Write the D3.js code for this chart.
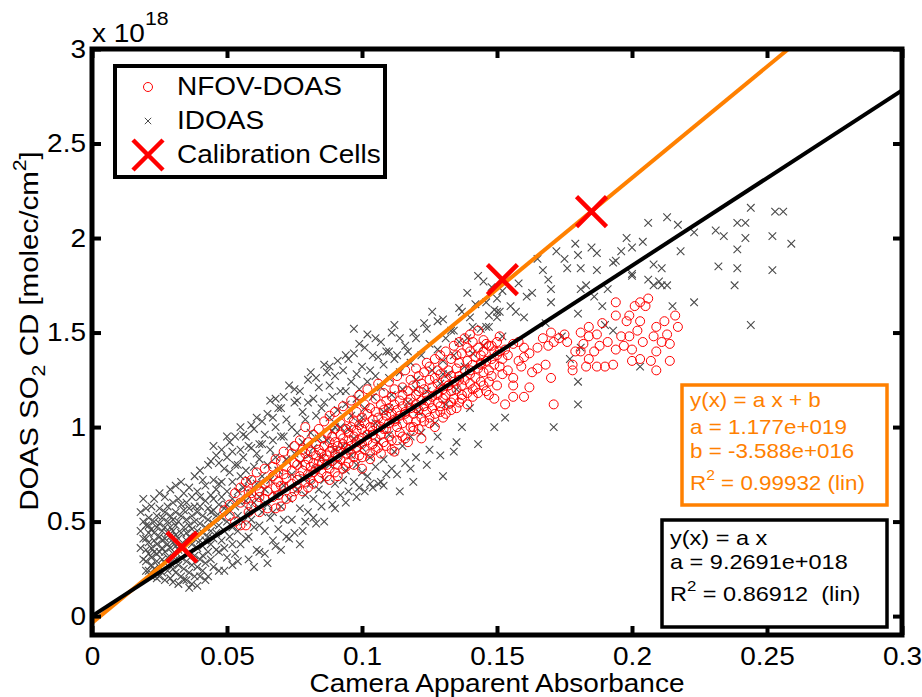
<!DOCTYPE html>
<html>
<head>
<meta charset="utf-8">
<script src="https://cdn.jsdelivr.net/npm/d3@7"></script>
<style>
  body { margin: 0; background: #fff; }
  svg { font-family: "Liberation Sans", Arial, sans-serif; }
</style>
</head>
<body>
<svg width="922" height="697"></svg>
<script>
// values, y in units of 1e18 molec/cm2
const xTicks = [0, 0.05, 0.1, 0.15, 0.2, 0.25, 0.3]
const xTickLabels = ["0", "0.05", "0.1", "0.15", "0.2", "0.25", "0.3"]
const yTicks = [0, 0.5, 1, 1.5, 2, 2.5, 3]
const yTickLabels = ["0", "0.5", "1", "1.5", "2", "2.5", "3"]

const calibrationCells = [[0.0333, 0.365], [0.152, 1.78], [0.185, 2.14]]

const fitLinB = {a: 11.77, b: -0.03588}   // orange, y = a x + b
const fitLin = {a: 9.2691, b: 0}           // black, y = a x

const fitLinBText = ["y(x) = a x + b", "a = 1.177e+019", "b = -3.588e+016", "R|2| = 0.99932 (lin)"]
const fitLinText = ["y(x) = a x", "a = 9.2691e+018", "R|2| = 0.86912  (lin)"]

const legendLabels = ["NFOV-DOAS", "IDOAS", "Calibration Cells"]

// NFOV-DOAS columns: [x, [y...]]
const nfovColumns = [
  [0.049,[0.56]],[0.051,[0.59,0.53]],[0.053,[0.65,0.50]],[0.055,[0.48,0.60,0.68]],
  [0.057,[0.48,0.62,0.71]],[0.058,[0.55,0.66]],[0.059,[0.65,0.72,0.58]],[0.061,[0.60,0.69,0.76]],
  [0.062,[0.55,0.66,0.63]],[0.064,[0.78,0.62,0.70]],[0.065,[0.71,0.57,0.66]],[0.067,[0.79,0.74,0.63]],
  [0.068,[0.57,0.68,0.83]],[0.069,[0.76,0.64,0.71]],[0.070,[0.58,0.82,0.69]],[0.071,[0.68,0.75,0.87]],
  [0.072,[0.62,0.73,0.79]],[0.074,[0.63,0.86,0.70,0.77]],[0.075,[0.66,0.81,0.90]],[0.076,[0.80,0.72,0.68]],
  [0.077,[0.74,0.84,0.93]],[0.078,[0.66,0.88,0.77]],[0.079,[1.00,0.71,0.80,0.86]],[0.080,[0.68,0.75,0.92,0.83]],
  [0.081,[0.79,0.87,0.72]],[0.082,[0.96,0.70,0.81,0.76]],[0.083,[0.85,0.91,0.78]],[0.084,[0.73,0.88,0.99,0.82]],
  [0.085,[0.80,0.94,0.76,0.86]],[0.086,[0.90,0.83,1.03]],[0.087,[0.74,0.85,0.97,0.80]],[0.088,[0.92,0.87,0.78,1.06,0.72]],
  [0.089,[0.82,0.95,0.89]],[0.090,[0.76,0.99,0.86,0.92,1.08]],[0.091,[0.84,0.90,0.80,0.74]],[0.092,[0.96,1.02,0.87,0.83]],
  [0.093,[0.91,0.78,1.11,0.94]],[0.094,[0.86,0.99,0.89,0.79]],[0.095,[0.81,0.93,1.05,0.97,0.88]],[0.096,[0.90,1.14,0.86,1.00]],
  [0.097,[0.95,0.84,1.03,0.80]],[0.098,[0.89,1.08,0.98,0.92]],[0.099,[1.01,0.85,1.17,0.93]],[0.100,[0.78,0.94,1.05,0.99,0.91,0.84]],
  [0.101,[1.12,0.88,1.02]],[0.102,[0.96,1.20,0.93,1.07]],[0.103,[0.86,1.00,1.10,0.83]],[0.104,[0.98,1.04,0.91,0.96]],
  [0.105,[1.15,0.94,1.08,1.01,0.88]],[0.106,[0.89,1.23,1.05]],[0.107,[1.00,0.96,1.12,0.86]],[0.108,[1.09,0.92,1.18,1.03,0.99]],
  [0.109,[1.06,0.99,1.14,0.90]],[0.110,[0.95,1.24,1.10,1.02]],[0.111,[1.07,1.16,0.93,0.88]],[0.112,[0.87,1.04,1.12,1.20,1.03]],
  [0.113,[1.09,1.00,1.27,0.93]],[0.114,[1.14,0.97,1.06]],[0.115,[1.21,1.02,1.11,1.17,0.95]],[0.116,[0.94,1.08,1.30,1.07]],
  [0.117,[1.13,1.04,1.19,0.92]],[0.118,[1.00,1.25,1.10,1.15]],[0.119,[1.07,1.22,0.98,1.00]],[0.120,[1.17,1.12,1.31,1.03,1.10]],
  [0.121,[1.09,1.27,1.19,0.99]],[0.122,[0.94,1.14,1.05,1.23]],[0.123,[1.20,1.29,1.11,1.03]],[0.124,[1.08,1.17,1.34,1.14]],
  [0.125,[1.32,1.13,1.02,1.25,1.05]],[0.126,[1.21,1.16,1.10]],[0.127,[1.36,1.07,1.26,1.00]],[0.128,[1.18,1.23,1.13,1.30,1.17]],
  [0.129,[1.11,1.28,1.38,1.08]],[0.130,[1.20,1.15,1.33,1.05]],[0.131,[1.25,1.40,1.17,1.07]],[0.132,[1.12,1.30,1.22,1.22]],
  [0.133,[1.36,1.19,1.27,1.09,1.13]],[0.134,[1.24,1.43,1.15]],[0.135,[1.31,1.20,1.38,1.10]],[0.136,[1.13,1.27,1.34,1.45,1.25]],
  [0.137,[1.22,1.39,1.17,1.15]],[0.138,[1.30,1.25,1.47]],[0.139,[1.35,1.18,1.42,1.12]],[0.140,[1.28,1.23,1.40,1.49,1.30]],
  [0.141,[1.33,1.16,1.45,1.20]],[0.142,[1.26,1.37,1.21]],[0.143,[1.42,1.31,1.51,1.18]],[0.144,[1.34,1.24,1.38,1.33]],
  [0.145,[1.40,1.29,1.46,1.22]],[0.146,[1.19,1.35,1.44]],[0.147,[1.24,1.43,1.30,1.17]],[0.148,[1.43,1.36,1.27]],
  [0.149,[1.15,1.40,1.33]],[0.150,[1.38,1.22,1.45]],[0.151,[1.32,1.40,1.48]],[0.152,[1.28,1.36]],
  [0.153,[1.12,1.41]],[0.154,[1.38,1.30]],[0.156,[1.16,1.22,1.26,1.44]],[0.158,[1.45,1.35]],
  [0.159,[1.32]],[0.160,[1.42,1.16,1.37]],[0.162,[1.21,1.39]],[0.163,[1.29]],[0.165,[1.31,1.42]],
  [0.167,[1.47]],[0.168,[1.33]],[0.169,[1.43]],[0.170,[1.50,1.26]],[0.171,[1.45,1.12]],[0.173,[1.47]],
  [0.175,[1.49]],[0.176,[1.45]],[0.178,[1.30,1.33]],[0.179,[1.40]],[0.181,[1.50,1.40]],[0.182,[1.44]],
  [0.183,[1.32]],[0.184,[1.53,1.48,1.36]],[0.186,[1.40]],[0.187,[1.49,1.32]],[0.188,[1.43]],[0.189,[1.55]],
  [0.190,[1.32]],[0.191,[1.45]],[0.193,[1.33]],[0.194,[1.66,1.59,1.41]],[0.196,[1.48]],[0.197,[1.43]],
  [0.198,[1.56]],[0.199,[1.59,1.48]],[0.200,[1.41,1.35]],[0.201,[1.64]],[0.202,[1.51]],[0.203,[1.66,1.56,1.36]],
  [0.204,[1.45]],[0.205,[1.64]],[0.206,[1.68]],[0.207,[1.35]],[0.208,[1.48]],[0.209,[1.53,1.40,1.30]],
  [0.211,[1.45]],[0.212,[1.56]],[0.213,[1.49]],[0.214,[1.44,1.35]],[0.216,[1.59]],[0.217,[1.53]]
]

// IDOAS columns: [x, [y...]]
const idoasColumns = [
  [0.018,[0.45,0.36,0.55]],[0.019,[0.30,0.41,0.50,0.62]],[0.020,[0.41,0.35,0.29,0.24,0.48,0.57]],
  [0.021,[0.48,0.24,0.33,0.39,0.52,0.44]],[0.022,[0.27,0.36,0.46,0.58,0.21,0.31]],[0.023,[0.40,0.50,0.25,0.34,0.62,0.44]],
  [0.024,[0.53,0.20,0.29,0.38,0.47,0.33]],[0.025,[0.21,0.34,0.42,0.57,0.26,0.49,0.65]],[0.026,[0.40,0.30,0.23,0.45,0.36,0.52]],
  [0.027,[0.63,0.19,0.28,0.41,0.34,0.55,0.47]],[0.028,[0.24,0.38,0.31,0.44,0.58,0.50]],[0.029,[0.20,0.28,0.36,0.42,0.53,0.67,0.47]],
  [0.030,[0.45,0.33,0.25,0.18,0.39,0.60,0.51]],[0.031,[0.23,0.30,0.43,0.37,0.55,0.48,0.69]],[0.032,[0.17,0.27,0.35,0.41,0.50,0.62]],
  [0.033,[0.71,0.59,0.21,0.31,0.44,0.38,0.53]],[0.034,[0.25,0.19,0.36,0.47,0.56,0.65]],[0.035,[0.19,0.29,0.40,0.33,0.51,0.60,0.44]],
  [0.036,[0.15,0.34,0.23,0.42,0.48,0.57,0.68]],[0.037,[0.27,0.38,0.17,0.46,0.53,0.63]],[0.038,[0.58,0.21,0.32,0.41,0.50,0.74]],
  [0.039,[0.16,0.26,0.36,0.45,0.55,0.66]],[0.040,[0.63,0.30,0.40,0.21,0.49,0.58,0.77]],[0.041,[0.72,0.32,0.24,0.44,0.53,0.37]],
  [0.042,[0.19,0.28,0.47,0.61,0.40,0.69]],[0.043,[0.42,0.51,0.21,0.34,0.57,0.80]],[0.044,[0.82,0.30,0.45,0.64,0.38,0.55]],
  [0.045,[0.56,0.26,0.49,0.72,0.41,0.62,0.90]],[0.046,[0.35,0.44,0.67,0.53,0.85]],[0.047,[0.81,0.34,0.24,0.59,0.48,0.70]],
  [0.048,[0.71,0.40,0.52,0.63,0.88]],[0.049,[0.24,0.45,0.57,0.78,0.36]],[0.050,[0.50,0.66,0.31,0.84,0.59,0.95]],
  [0.051,[0.76,0.42,0.55,0.92]],[0.052,[0.87,0.38,0.62,0.47,0.71,0.27]],[0.053,[0.33,0.58,0.80,0.95]],
  [0.054,[0.80,0.45,0.29,0.66,0.53]],[0.055,[0.38,0.74,0.88,0.60,1.00]],[0.056,[0.96,0.50,0.68,0.84]],
  [0.057,[0.95,0.41,0.61,0.77]],[0.058,[0.42,0.56,0.72,0.90,0.30]],[0.059,[0.89,0.51,0.65,1.01]],
  [0.060,[0.99,0.26,0.47,0.79,0.60]],[0.061,[0.35,0.70,0.86,1.05]],[0.062,[0.34,0.48,0.83,0.91,0.63]],
  [0.063,[0.91,0.55,0.74,1.03]],[0.064,[0.45,0.67,0.96,0.33]],[0.065,[0.28,0.59,0.80,1.07]],[0.066,[1.14,0.52,0.88,0.72]],
  [0.067,[1.05,0.55,0.93,0.40]],[0.068,[0.64,0.84,1.00,0.37,1.15]],[0.069,[0.46,0.77,1.10]],[0.070,[0.35,0.58,0.95,1.10]],
  [0.071,[0.95,0.69,0.51,1.16]],[0.072,[0.42,0.83,1.04]],[0.073,[1.22,0.62,0.90,0.41]],[0.074,[0.51,1.00,0.75]],
  [0.075,[0.44,0.86,1.13,1.20]],[0.076,[1.14,0.67,0.97]],[0.077,[0.38,0.57,0.81,1.19]],[0.078,[1.08,0.73,0.92,0.45]],
  [0.079,[0.50,1.04,0.64]],[0.080,[1.13,0.85,0.55,1.25]],[0.081,[1.29,0.70,0.97]],[0.082,[0.62,0.89,1.15,0.52]],
  [0.083,[1.06,0.49,0.78,1.26]],[0.084,[0.67,1.21,0.94]],[0.085,[0.84,1.10,0.58]],[0.086,[1.13,0.72,1.33,0.50]],
  [0.087,[1.29,0.93,0.64]],[0.088,[0.80,1.05,1.22,1.32]],[0.089,[1.16,0.59,0.98]],[0.090,[0.70,1.27,0.88,0.57,1.00]],
  [0.091,[1.35,0.82,1.09]],[0.092,[0.64,1.00,1.19]],[0.093,[0.72,1.30,0.90]],[0.094,[1.19,0.77,1.12,0.60,1.38]],
  [0.095,[0.66,0.99,1.36]],[0.096,[0.85,1.24,1.06]],[0.097,[1.52,0.71,1.39,0.94]],[0.098,[1.15,0.80,1.28,0.63]],
  [0.099,[0.68,1.02,1.20,1.44]],[0.100,[1.32,0.89,0.76,1.05]],[0.101,[1.10,1.42,0.66]],[0.102,[1.49,1.24,0.96,0.74]],
  [0.103,[0.84,1.30,0.70]],[0.104,[0.68,1.16,1.38]],[0.105,[1.02,0.79,1.27,1.47]],[0.106,[1.37,0.92,0.70]],
  [0.107,[0.71,1.21,1.45]],[0.108,[1.08,0.83,1.33,0.69]],[0.109,[0.75,1.40]],[0.110,[1.40,0.96,1.26,1.10]],
  [0.111,[0.78,1.17,1.50]],[0.112,[1.54,0.87,1.36]],[0.113,[1.38,1.04,0.75]],[0.114,[0.66,1.29,1.47]],
  [0.115,[0.90,1.20]],[0.116,[0.81,1.43]],[0.117,[1.40,1.13]],[0.118,[0.95,1.34,0.78]],[0.119,[0.71,1.50]],
  [0.120,[1.47,0.84,1.25,1.20]],[0.121,[1.08]],[0.122,[1.38,0.97]],[0.123,[1.55]],[0.124,[1.52,1.19,0.80]],
  [0.125,[0.88,1.44]],[0.126,[1.61,1.30]],[0.127,[1.02]],[0.128,[1.56,0.95,1.41]],[0.129,[1.23,0.85]],
  [0.130,[1.57,0.74,1.35,1.28]],[0.131,[1.47,1.12]],[0.132,[1.28]],[0.133,[1.51]],[0.134,[1.51,0.87,1.38]],
  [0.135,[1.20,0.92]],[0.136,[1.63,1.45]],[0.137,[1.61,1.00]],[0.138,[1.32]],[0.139,[1.47,1.71]],
  [0.140,[1.58,1.10]],[0.141,[1.53,1.39]],[0.142,[1.65]],[0.143,[1.80,0.91]],[0.144,[1.52]],
  [0.145,[1.77,1.43]],[0.146,[1.53,1.66]],[0.147,[1.59,1.53]],[0.148,[1.74]],[0.149,[1.00,1.62]],
  [0.150,[1.61,1.58,1.68]],[0.151,[1.61]],[0.152,[1.48,1.72]],[0.153,[1.05]],[0.155,[1.64]],[0.157,[1.61]],
  [0.158,[1.76]],[0.160,[1.58]],[0.161,[1.69]],[0.163,[1.71]],[0.165,[1.89]],[0.167,[1.83]],[0.168,[1.55]],
  [0.169,[1.78]],[0.170,[1.73,1.66]],[0.171,[1.00]],[0.172,[1.93]],[0.174,[1.48]],[0.175,[1.89]],[0.176,[1.84]],
  [0.177,[1.36]],[0.179,[1.97]],[0.180,[1.91,1.60,1.24,1.12]],[0.181,[1.84,1.73,1.42]],[0.183,[1.75]],
  [0.185,[1.95]],[0.186,[1.69]],[0.187,[1.92,1.83]],[0.189,[1.64]],[0.190,[1.54]],[0.191,[1.73]],
  [0.193,[1.87,1.51]],[0.194,[1.88]],[0.196,[1.93]],[0.198,[2.00]],[0.200,[1.95,1.80,1.81]],[0.203,[1.32]],
  [0.204,[1.98]],[0.206,[2.08,1.78]],[0.208,[1.86,1.75]],[0.210,[1.77]],[0.211,[1.84,1.75]],[0.213,[2.11,1.75]],
  [0.215,[1.64]],[0.217,[2.07]],[0.218,[1.93]],[0.223,[2.03,1.66]],[0.231,[2.04]],[0.232,[1.85]],[0.234,[2.01]],
  [0.238,[1.75]],[0.239,[2.08,1.94,1.84]],[0.242,[2.08,2.00]],[0.244,[2.16,1.54]],[0.252,[2.01,1.83]],
  [0.253,[2.14]],[0.256,[2.14]],[0.259,[1.97]]
]

const flatten = cols => cols.flatMap(([x, ys]) => ys.map(y => [x, y]))
const nfov = flatten(nfovColumns)
const idoas = flatten(idoasColumns)

const svg = d3.select("svg")
const orange = "#ff8000"
const grey = "#4a4a4a"
const stretch = 1.12   // the original font runs wider than Liberation Sans

const xScale = d3.scaleLinear().domain([0, 0.3]).range([92, 902])
const yScale = d3.scaleLinear().domain([-0.1, 3]).range([635, 49])

svg.append("clipPath").attr("id", "clip")
  .append("rect")
  .attr("x", xScale(0)).attr("y", yScale(3))
  .attr("width", xScale(0.3) - xScale(0))
  .attr("height", yScale(-0.1) - yScale(3))

const xMark = s => `M${-s},${-s}L${s},${s}M${-s},${s}L${s},${-s}`

const label = (parent, x, y, size) => parent.append("text")
  .attr("transform", `translate(${x},${y}) scale(${stretch},1)`)
  .style("font-size", size + "px")

// IDOAS crosses
svg.append("g").selectAll("path").data(idoas)
  .enter().append("path")
  .attr("d", xMark(3.8))
  .attr("transform", d => `translate(${xScale(d[0])},${yScale(d[1])})`)
  .attr("stroke", grey)
  .attr("stroke-width", 1.1)
  .attr("fill", "none")

// NFOV-DOAS circles
svg.append("g").selectAll("circle").data(nfov)
  .enter().append("circle")
  .attr("cx", d => xScale(d[0]))
  .attr("cy", d => yScale(d[1]))
  .attr("r", 4.5)
  .attr("stroke", "red")
  .attr("stroke-width", 1)
  .attr("fill", "none")

// fit lines
const lineG = svg.append("g").attr("clip-path", "url(#clip)")
const drawFit = (fit, color) => {
  const pts = [0, 0.3].map(x => [x, fit.a * x + fit.b])
  lineG.append("path")
    .attr("d", d3.line().x(d => xScale(d[0])).y(d => yScale(d[1]))(pts))
    .attr("stroke", color)
    .attr("stroke-width", 4)
    .attr("fill", "none")
}
drawFit(fitLinB, orange)
drawFit(fitLin, "black")

// calibration cells
svg.append("g").selectAll("path").data(calibrationCells)
  .enter().append("path")
  .attr("d", xMark(15))
  .attr("transform", d => `translate(${xScale(d[0])},${yScale(d[1])})`)
  .attr("stroke", "red")
  .attr("stroke-width", 4.5)
  .attr("fill", "none")

// axes, matlab style box with inward ticks
const fontSize = 25
const xAxis = d3.axisBottom(xScale).tickValues(xTicks)
  .tickFormat((d, i) => xTickLabels[i]).tickSizeInner(-9).tickSizeOuter(0).tickPadding(12)
const yAxis = d3.axisLeft(yScale).tickValues(yTicks)
  .tickFormat((d, i) => yTickLabels[i]).tickSizeInner(-9).tickSizeOuter(0).tickPadding(6)

const xAxisG = svg.append("g").attr("transform", `translate(0,${yScale(-0.1)})`).call(xAxis)
const yAxisG = svg.append("g").attr("transform", `translate(${xScale(0)},0)`).call(yAxis)
const xTopG = svg.append("g").attr("transform", `translate(0,${yScale(3)})`)
  .call(d3.axisTop(xScale).tickValues(xTicks).tickSizeInner(-9).tickSizeOuter(0).tickFormat(""))
const yRightG = svg.append("g").attr("transform", `translate(${xScale(0.3)},0)`)
  .call(d3.axisRight(yScale).tickValues(yTicks).tickSizeInner(-9).tickSizeOuter(0).tickFormat(""))

;[xAxisG, yAxisG, xTopG, yRightG].forEach(g => {
  g.select(".domain").remove()
  g.selectAll(".tick line").attr("stroke", "black").attr("stroke-width", 4)
  g.selectAll(".tick text").attr("fill", "black")
    .attr("transform", `scale(${stretch},1)`)
    .style("font-size", fontSize + "px")
    .style("font-family", "'Liberation Sans', Arial, sans-serif")
})
yAxisG.selectAll(".tick text").attr("x", -6 / stretch)

svg.append("rect")
  .attr("x", xScale(0)).attr("y", yScale(3))
  .attr("width", xScale(0.3) - xScale(0))
  .attr("height", yScale(-0.1) - yScale(3))
  .attr("fill", "none").attr("stroke", "black").attr("stroke-width", 5)

// exponent label
const expText = label(svg, 92, 42, 25)
expText.append("tspan").text("x 10")
expText.append("tspan").attr("dy", -17).style("font-size", "19px").text("18")

// axis labels
label(svg, xScale(0.15), 692, 25)
  .attr("text-anchor", "middle")
  .text("Camera Apparent Absorbance")

const yLab = svg.append("text")
  .attr("transform", "translate(38,331) rotate(-90) scale(1.18,1)")
  .attr("text-anchor", "middle")
  .style("font-size", "25px")
yLab.append("tspan").text("DOAS SO")
yLab.append("tspan").attr("dy", 7).style("font-size", "18px").text("2")
yLab.append("tspan").attr("dy", -7).text(" CD [molec/cm")
yLab.append("tspan").attr("dy", -12).style("font-size", "18px").text("2")
yLab.append("tspan").attr("dy", 12).text("]")

// legend
const legend = svg.append("g")
legend.append("rect").attr("x", 115).attr("y", 66).attr("width", 270).attr("height", 111)
  .attr("fill", "white").attr("stroke", "black").attr("stroke-width", 4)
legend.append("circle").attr("cx", 148).attr("cy", 87).attr("r", 4.5)
  .attr("stroke", "red").attr("fill", "none").attr("stroke-width", 1)
legend.append("path").attr("d", xMark(3.2)).attr("transform", "translate(148,121)")
  .attr("stroke", grey).attr("fill", "none").attr("stroke-width", 1)
legend.append("path").attr("d", xMark(15)).attr("transform", "translate(148,155)")
  .attr("stroke", "red").attr("fill", "none").attr("stroke-width", 4.5)
legendLabels.forEach((s, i) => label(legend, 177, 95 + i * 34, 25).text(s))

// fit boxes
const fitBox = (x, y, w, h, color, lines, tx, baselines, size) => {
  svg.append("rect").attr("x", x).attr("y", y).attr("width", w).attr("height", h)
    .attr("fill", "white").attr("stroke", color).attr("stroke-width", 3.5)
  lines.forEach((s, i) => {
    const t = label(svg, tx, baselines[i], size)
      .attr("fill", color).attr("xml:space", "preserve")
    const parts = s.split("|")
    if (parts.length === 1) { t.text(s); return }
    t.append("tspan").text(parts[0])
    t.append("tspan").attr("dy", -10).style("font-size", (size - 6) + "px").text(parts[1])
    t.append("tspan").attr("dy", 10).text(parts[2])
  })
}
fitBox(682, 385, 205, 120, orange, fitLinBText, 690, [407, 434, 458, 490], 20)
fitBox(662, 520, 225, 107, "black", fitLinText, 670, [545, 569, 601], 21)
</script>
</body>
</html>
